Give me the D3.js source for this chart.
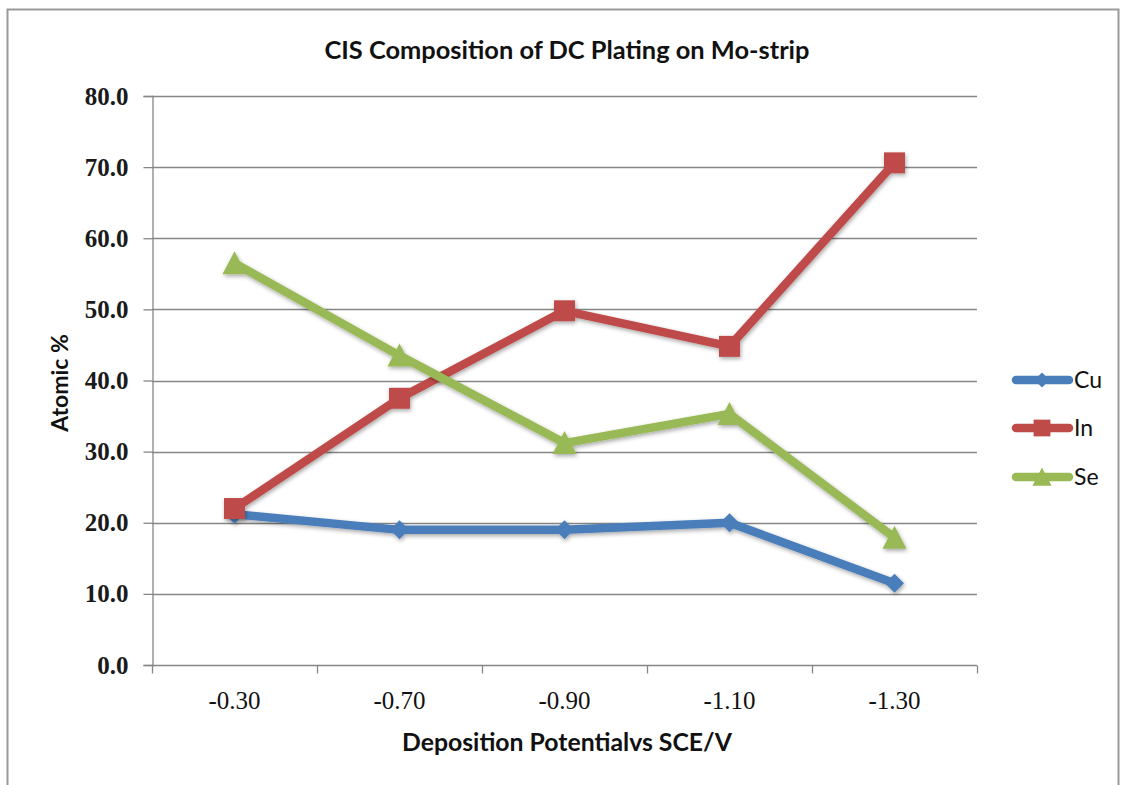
<!DOCTYPE html>
<html>
<head>
<meta charset="utf-8">
<script src="https://cdn.jsdelivr.net/npm/d3@7"></script>
<style>
  html, body { margin: 0; padding: 0; background: #fff; }
  svg { display: block; }
</style>
</head>
<body>
<svg id="chart" width="1127" height="785"></svg>
<script>
const categories = ["-0.30", "-0.70", "-0.90", "-1.10", "-1.30"];
const cuValues = [21.2, 19.0, 19.0, 20.0, 11.5];
const inValues = [22.0, 37.5, 49.8, 44.8, 70.6];
const seValues = [56.5, 43.5, 31.2, 35.3, 17.9];
const seriesNames = ["Cu", "In", "Se"];
const yTicks = [0, 10, 20, 30, 40, 50, 60, 70, 80];

(function () {
const series = [
  { name: seriesNames[0], values: cuValues, color: "#4a7ebb", marker: "diamond" },
  { name: seriesNames[1], values: inValues, color: "#be4b48", marker: "square" },
  { name: seriesNames[2], values: seValues, color: "#98b954", marker: "triangle" }
];

const svg = d3.select("#chart");
const pLeft = 152, pRight = 977, pTop = 96, pBottom = 665;

// outer border
svg.append("rect").attr("x", 7.5).attr("y", 9.5).attr("width", 1111).attr("height", 800)
  .attr("fill", "none").attr("stroke", "#9a9a9a").attr("stroke-width", 2);

const defs = svg.append("defs");
const f = defs.append("filter").attr("id", "shadow").attr("x", "-20%").attr("y", "-20%").attr("width", "140%").attr("height", "140%");
f.append("feDropShadow").attr("dx", 1).attr("dy", 2).attr("stdDeviation", 2).attr("flood-color", "#000").attr("flood-opacity", 0.35);

const x = d3.scaleBand().domain(categories).range([pLeft, pRight]);
const y = d3.scaleLinear().domain([0, 80]).range([pBottom, pTop]);

// gridlines
svg.append("g").selectAll("line").data(yTicks.filter(d => d > 0)).join("line")
  .attr("x1", pLeft).attr("x2", pRight)
  .attr("y1", d => Math.round(y(d)) + 0.5).attr("y2", d => Math.round(y(d)) + 0.5)
  .attr("stroke", "#868686").attr("stroke-width", 1.3);

// y axis
const yAxis = svg.append("g").attr("transform", `translate(${pLeft + 0.5},0)`)
  .call(d3.axisLeft(y).tickValues(yTicks).tickFormat(d3.format(".1f")).tickSize(9).tickPadding(15));
yAxis.select(".domain").attr("stroke", "#868686").attr("stroke-width", 1.3);
yAxis.selectAll(".tick line").attr("stroke", "#868686").attr("stroke-width", 1.3);
yAxis.selectAll(".tick text").attr("font-family", "'Liberation Serif', serif").attr("font-weight", "bold")
  .attr("font-size", 25).attr("fill", "#1a1a1a");

// x axis
const xAxis = svg.append("g").attr("transform", `translate(0,${Math.round(pBottom) + 0.5})`)
  .call(d3.axisBottom(x).tickSize(0));
xAxis.select(".domain").attr("stroke", "#868686").attr("stroke-width", 1.3).attr("d", `M${pLeft},0H${pRight}`);
xAxis.selectAll(".tick text").attr("font-family", "'Liberation Serif', serif")
  .attr("font-size", 25).attr("fill", "#111").attr("y", 43).attr("dy", 0);
const boundaries = categories.map(c => x(c)).concat([pRight]);
xAxis.append("g").selectAll("line").data(boundaries).join("line")
  .attr("x1", d => Math.round(d) + 0.5).attr("x2", d => Math.round(d) + 0.5)
  .attr("y1", 0).attr("y2", 8).attr("stroke", "#868686").attr("stroke-width", 1.3);

// lines & markers
const cx = c => x(c) + x.bandwidth() / 2;
const line = d3.line().x((d, i) => cx(categories[i])).y(d => y(d));
const markerPath = (type) => {
  if (type === "diamond") return d3.symbol(d3.symbolDiamond2, 230)();
  if (type === "square") return d3.symbol(d3.symbolSquare2, 560)();
  return "M0,-12L12,11L-12,11Z";
};

series.forEach(s => {
  const g = svg.append("g").attr("filter", "url(#shadow)");
  g.append("path").datum(s.values).attr("d", line)
    .attr("fill", "none").attr("stroke", s.color).attr("stroke-width", 8.5)
    .attr("stroke-linejoin", "round").attr("stroke-linecap", "round");
  g.selectAll("path.m").data(s.values).join("path").attr("class", "m")
    .attr("d", markerPath(s.marker))
    .attr("transform", (d, i) => `translate(${cx(categories[i])},${y(d)})`)
    .attr("fill", s.color);
});

// title
svg.append("text").attr("x", 567).attr("y", 59).attr("text-anchor", "middle")
  .attr("font-family", "Lato, 'Open Sans', sans-serif").attr("font-weight", "bold").attr("font-size", 24)
  .attr("textLength", 485).attr("lengthAdjust", "spacingAndGlyphs")
  .attr("fill", "#111").text("CIS Composition of DC Plating on Mo-strip");

// axis titles
svg.append("text").attr("transform", "translate(68,383) rotate(-90)").attr("text-anchor", "middle")
  .attr("font-family", "Lato, 'Open Sans', sans-serif").attr("font-weight", "bold").attr("font-size", 23)
  .attr("fill", "#111").text("Atomic %");
svg.append("text").attr("x", 567).attr("y", 751).attr("text-anchor", "middle")
  .attr("font-family", "Lato, 'Open Sans', sans-serif").attr("font-weight", "bold").attr("font-size", 24)
  .attr("textLength", 330).attr("lengthAdjust", "spacingAndGlyphs")
  .attr("fill", "#111").text("Deposition Potentialvs SCE/V");

// legend
const legendY = [380, 428, 477];
const lg = svg.append("g");
series.forEach((s, i) => {
  const g = lg.append("g").attr("transform", `translate(0,${legendY[i]})`);
  g.append("line").attr("x1", 1016).attr("x2", 1069).attr("y1", 0).attr("y2", 0)
    .attr("stroke", s.color).attr("stroke-width", 8.5).attr("stroke-linecap", "round");
  g.append("path").attr("d", markerPath(s.marker))
    .attr("transform", `translate(1042,0) scale(0.8)`).attr("fill", s.color);
  g.append("text").attr("x", 1074).attr("y", 0).attr("dy", "0.36em")
    .attr("font-family", "Lato, 'Open Sans', sans-serif").attr("font-size", 23).attr("fill", "#111")
    .text(s.name);
});
})();
</script>
</body>
</html>
